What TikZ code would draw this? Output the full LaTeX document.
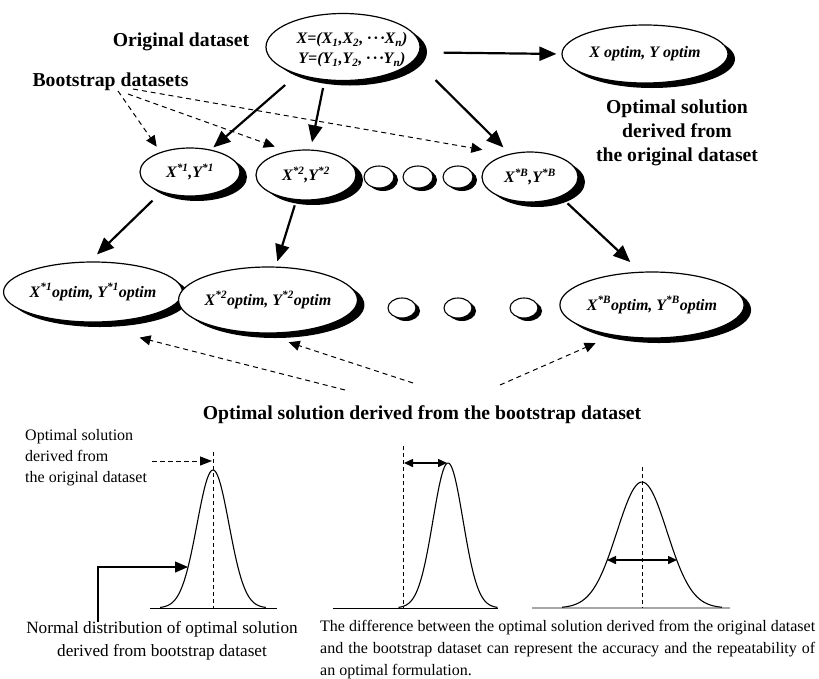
\documentclass[tikz,border=0pt]{standalone}
\usepackage{fontspec}
\setmainfont{Liberation Serif}
\usetikzlibrary{shapes.geometric,arrows.meta,shadows}
\begin{document}
\begin{tikzpicture}[x=1pt,y=-1pt,
  ell/.style={ellipse, draw, line width=1.2pt, fill=white, inner sep=0pt,
    drop shadow={shadow xshift=7pt, shadow yshift=-5pt, fill=black, opacity=1},
    font=\fontsize{16}{19}\selectfont\bfseries\itshape},
  dotell/.style={ellipse, draw, line width=1.1pt, fill=white, inner sep=0pt,
    drop shadow={shadow xshift=4pt, shadow yshift=-3pt, fill=black, opacity=1}},
  bigarrow/.style={line width=2.2pt, -{Triangle[length=17pt,width=14pt]}},
  dasharrow/.style={line width=1pt, dash pattern=on 5pt off 4pt, -{Triangle[length=11pt,width=10pt]}},
  headtxt/.style={font=\fontsize{19.7}{24.2}\selectfont\bfseries, inner sep=0pt, align=center},
  plaintxt/.style={font=\fontsize{16}{21}\selectfont, inner sep=0pt},
  curve/.style={line width=1.1pt},
  vdash/.style={line width=1pt, dash pattern=on 4pt off 3pt},
  dblarrow/.style={line width=1.5pt, {Triangle[length=9pt,width=8pt]}-{Triangle[length=9pt,width=8pt]}},
]
\useasboundingbox (0,0) rectangle (819,678);

% ---------- top part ----------
\node[headtxt] (origlbl) at (181,41.6) {Original dataset};
\node[headtxt] (bslbl) at (110.5,81.6) {Bootstrap datasets};

\node[ell, minimum width=154pt, minimum height=67pt] (orig) at (343,47) {};
\node[font=\fontsize{16}{20}\selectfont\bfseries\itshape, align=center, inner sep=0pt] (origtxt) at (352,50)
  {X=(X\textsubscript{1},X\textsubscript{2}, ·\,·\,·X\textsubscript{n})\\Y=(Y\textsubscript{1},Y\textsubscript{2}, ·\,·\,·Y\textsubscript{n})};

\node[ell, minimum width=166pt, minimum height=58pt] (xopt) at (645,54) {X optim, Y optim};
\node[headtxt] (origsol) at (677,133) {Optimal solution\\derived from\\the original dataset};

% bootstrap datasets row
\node[ell, minimum width=100pt, minimum height=48pt] (b1) at (190,172) {X\textsuperscript{*1},Y\textsuperscript{*1}};
\node[ell, minimum width=100pt, minimum height=50pt] (b2) at (306,175) {X\textsuperscript{*2},Y\textsuperscript{*2}};
\node[dotell, minimum width=30pt, minimum height=22pt] (s1) at (379,177) {};
\node[dotell, minimum width=30pt, minimum height=22pt] (s2) at (418,177) {};
\node[dotell, minimum width=30pt, minimum height=22pt] (s3) at (458,177) {};
\node[ell, minimum width=96pt, minimum height=50pt] (bB) at (530,177) {X\textsuperscript{*B},Y\textsuperscript{*B}};

% optimum row
\node[ell, minimum width=162pt, minimum height=60pt] (o1) at (93,292) {X\textsuperscript{*1}optim, Y\textsuperscript{*1}optim};
\node[ell, minimum width=164pt, minimum height=66pt] (o2) at (268,300) {X\textsuperscript{*2}optim, Y\textsuperscript{*2}optim};
\node[dotell, minimum width=28pt, minimum height=20pt] (t1) at (402,308) {};
\node[dotell, minimum width=28pt, minimum height=20pt] (t2) at (458,308) {};
\node[dotell, minimum width=28pt, minimum height=20pt] (t3) at (524,308) {};
\node[ell, minimum width=162pt, minimum height=66pt] (oB) at (652,305) {X\textsuperscript{*B}optim, Y\textsuperscript{*B}optim};

\node[headtxt] (bsol) at (422,415) {Optimal solution derived from the bootstrap dataset};

% solid arrows
\draw[bigarrow, shorten <=24pt, shorten >=5pt] (orig.-4) -- (xopt.west);
\draw[bigarrow, shorten <=16pt, shorten >=3.3pt] (orig.211) -- (b1.47);
\draw[bigarrow, shorten <=8pt, shorten >=7.3pt] (orig.241) -- (b2.80);
\draw[bigarrow, shorten <=29pt, shorten >=9pt] (orig.-10) -- (bB.131);
\draw[bigarrow, shorten <=12pt, shorten >=10pt] (b1.215) -- (o1.96);
\draw[bigarrow, shorten <=5.5pt, shorten >=5.3pt] (b2.249) -- (o2.77);
\draw[bigarrow, shorten <=9.5pt, shorten >=14pt] (bB.-33) -- (oB.109);

% dashed arrows from "Bootstrap datasets"
\coordinate (d1s) at (118,91);
\coordinate (d2s) at (128,94);
\coordinate (d3s) at (133,89);
\draw[dasharrow, shorten >=6.5pt] (d1s) -- (b1.146);
\draw[dasharrow, shorten >=13.5pt] (d2s) -- (b2.128);
\draw[dasharrow, shorten >=26pt] (d3s) -- (bB.134);

% dashed arrows from bottom title
\coordinate (e1s) at (345,390);
\coordinate (e2s) at (413,383);
\coordinate (e3s) at (500,385);
\draw[dasharrow, shorten >=62pt] (e1s) -- (o1.246);
\draw[dasharrow, shorten >=28pt] (e2s) -- (o2.-100);
\draw[dasharrow, shorten >=19pt] (e3s) -- (oB.218);

% ---------- bottom part ----------
\node[plaintxt, align=left, anchor=west] (origsol2) at (25,458) {Optimal solution\\derived from\\the original dataset};

% graph 1
\draw[line width=1pt] (150,608) -- (277,608);
\draw[curve] plot[domain=-3.3:3.3, samples=90, smooth] ({213+16*\x}, {608-138*exp(-(\x)*(\x)/2)});
\draw[vdash] (213,452) -- (213,608);
\coordinate (p1a) at (152,461);
\coordinate (p1b) at (212,461);
\draw[line width=1pt, dash pattern=on 5pt off 3pt, -{Triangle[length=12pt,width=9pt]}] (p1a) -- (p1b);
\coordinate (q1) at (98,622);
\coordinate (q2) at (98,567);
\coordinate (q3) at (188,567);
\draw[line width=1.3pt, -{Triangle[length=13pt,width=11pt]}] (q1) -- (q2) -- (q3);

% graph 2
\draw[line width=1pt] (333,608) -- (498,608);
\draw[curve] plot[domain=-3.3:3.3, samples=90, smooth] ({448+15*\x}, {608-145*exp(-(\x)*(\x)/2)});
\draw[vdash] (403,446) -- (403,608);
\coordinate (r1) at (404,463);
\coordinate (r2) at (447,463);
\draw[dblarrow] (r1) -- (r2);

% graph 3
\draw[line width=1.2pt, gray!70] (532,608) -- (730,608);
\draw[curve] plot[domain=-3.2:3.2, samples=90, smooth] ({642+25*\x}, {608-126*exp(-(\x)*(\x)/2)});
\draw[vdash] (642,467) -- (642,608);
\coordinate (u1) at (607,560);
\coordinate (u2) at (677,560);
\draw[dblarrow] (u1) -- (u2);

% captions
\node[font=\fontsize{17.2}{23.5}\selectfont, align=center, inner sep=0pt] (ndist) at (162,641)
  {Normal distribution of optimal solution\\derived from bootstrap dataset};
\node[font=\fontsize{16}{22}\selectfont, align=left, anchor=west, inner sep=0pt] (diff) at (320,650)
  {\makebox[495pt][s]{The difference between the optimal solution derived from the original dataset}\\
   \makebox[495pt][s]{and the bootstrap dataset can represent the accuracy and the repeatability of}\\
   an optimal formulation.};
\end{tikzpicture}
\end{document}
